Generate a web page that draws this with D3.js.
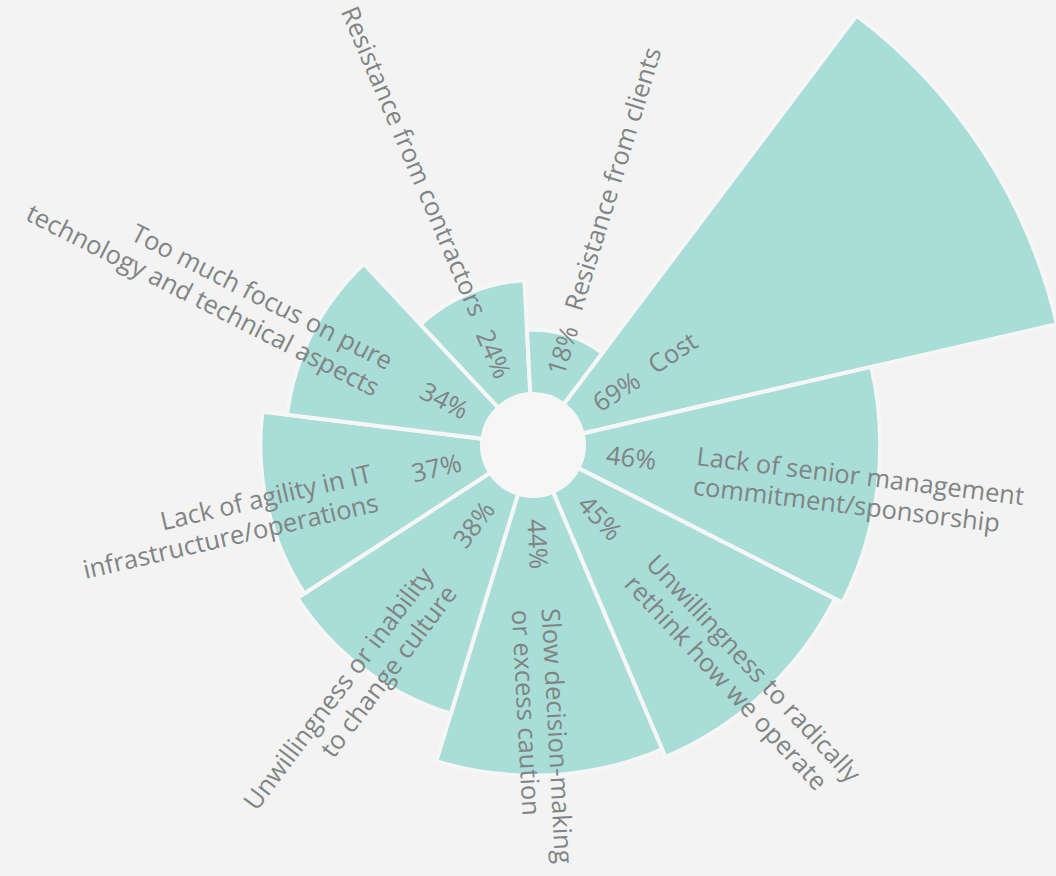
<!DOCTYPE html>
<html>
<head>
<meta charset="utf-8">
<script src="https://cdn.jsdelivr.net/npm/d3@7"></script>
<style>
  html, body { margin: 0; padding: 0; background: #f3f3f3; }
  svg { display: block; }
  text { font-family: "Open Sans", "Noto Sans", sans-serif; fill: #808484; }
</style>
</head>
<body>
<svg id="chart" width="1056" height="876"></svg>
<script>
// Barriers, sorted from most to least cited (share of respondents, %)
const categories = [
  "Cost",
  "Lack of senior management\ncommitment/sponsorship",
  "Unwillingness to radically\nrethink how we operate",
  "Slow decision-making\nor excess caution",
  "Unwillingness or inability\nto change culture",
  "Lack of agility in IT\ninfrastructure/operations",
  "Too much focus on pure\ntechnology and technical aspects",
  "Resistance from contractors",
  "Resistance from clients"
];
const values = [69, 46, 45, 44, 38, 37, 34, 24, 18];
const valueLabels = ["69%", "46%", "45%", "44%", "38%", "37%", "34%", "24%", "18%"];

const width = 1056, height = 876;
const cx = 533, cy = 445;
const innerR = 51;
const fill = "#a9ddd8";
const bg = "#f3f3f3";

const svg = d3.select("#chart");
svg.append("rect").attr("width", width).attr("height", height).attr("fill", bg);

const g = svg.append("g").attr("transform", `translate(${cx},${cy})`);

// Angular band: equal wedges, clockwise from 37° past north
const startDeg = 37;
const angle = d3.scaleBand()
  .domain(d3.range(categories.length))
  .range([startDeg * Math.PI / 180, (startDeg + 360) * Math.PI / 180]);

// Radial extent of each wedge
const radius = d3.scaleLinear().domain([10, 70]).range([49, 546]);

const arc = d3.arc()
  .innerRadius(innerR)
  .outerRadius((d, i) => radius(values[i]))
  .startAngle((d, i) => angle(i))
  .endAngle((d, i) => angle(i) + angle.bandwidth());

g.selectAll("path.wedge")
  .data(values)
  .join("path")
  .attr("class", "wedge")
  .attr("d", arc)
  .attr("fill", fill)
  .attr("stroke", "#f6f6f6")
  .attr("stroke-width", 4)
  .attr("stroke-linejoin", "miter");

// Centre hole
g.append("circle").attr("r", innerR - 1).attr("fill", "#f6f6f6");

const fontSize = 25.5;

function orient(i) {
  const deg = ((angle(i) + angle.bandwidth() / 2) * 180 / Math.PI) % 360;
  const right = deg < 180;
  return { rot: right ? deg - 90 : deg + 90, right };
}

// Percentage labels along each wedge's radius
g.selectAll("text.pct")
  .data(valueLabels)
  .join("text")
  .attr("class", "pct")
  .attr("font-size", fontSize)
  .each(function (d, i) {
    const o = orient(i);
    d3.select(this)
      .attr("transform", `rotate(${o.rot})`)
      .attr("x", o.right ? 74 : -74)
      .attr("dy", "0.38em")
      .attr("text-anchor", o.right ? "start" : "end")
      .text(d);
  });

// Category labels, one tspan per line
g.selectAll("text.cat")
  .data(categories)
  .join("text")
  .attr("class", "cat")
  .attr("font-size", fontSize)
  .each(function (d, i) {
    const o = orient(i);
    const lines = d.split("\n");
    const r = lines.length > 1 ? 164 : 141;
    const t = d3.select(this)
      .attr("transform", `rotate(${o.rot})`)
      .attr("text-anchor", o.right ? "start" : "end");
    lines.forEach((line, k) => {
      t.append("tspan")
        .attr("x", o.right ? r : -r)
        .attr("y", 0)
        .attr("dy", lines.length > 1 ? (k * 1.17) + "em" : "0.3em")
        .text(line);
    });
  });
</script>
</body>
</html>
